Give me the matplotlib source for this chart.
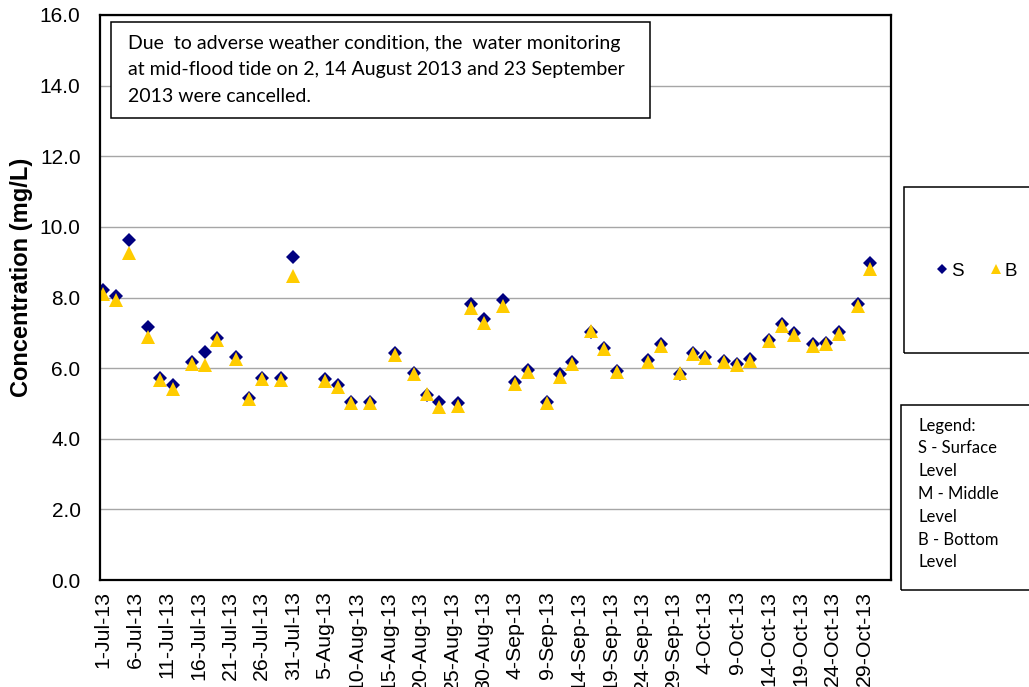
import matplotlib
matplotlib.use("Agg")
import matplotlib.pyplot as plt
import matplotlib.dates as mdates
from matplotlib.patches import Rectangle
import datetime as dt

# sampling days (2013) and dissolved oxygen readings (mg/L)
months = [7]*14 + [8]*11 + [9]*12 + [10]*13
days = [1, 3, 5, 8, 10, 12, 15, 17, 19, 22, 24, 26, 29, 31,
        5, 7, 9, 12, 16, 19, 21, 23, 26, 28, 30,
        2, 4, 6, 9, 11, 13, 16, 18, 20, 25, 27, 30,
        2, 4, 7, 9, 11, 14, 16, 18, 21, 23, 25, 28, 30]
surface = [8.21, 8.04, 9.64, 7.17, 5.71, 5.52, 6.18, 6.46, 6.84, 6.32, 5.16, 5.71, 5.71, 9.15,
           5.68, 5.52, 5.05, 5.05, 6.42, 5.87, 5.24, 5.03, 5.00, 7.83, 7.38,
           7.92, 5.61, 5.96, 5.05, 5.83, 6.18, 7.01, 6.58, 5.92, 6.23, 6.68, 5.82,
           6.43, 6.32, 6.20, 6.13, 6.25, 6.81, 7.24, 7.00, 6.68, 6.72, 7.03, 7.81, 8.98]
bottom = [8.10, 7.93, 9.27, 6.87, 5.67, 5.42, 6.13, 6.09, 6.79, 6.27, 5.12, 5.68, 5.67, 8.60,
          5.64, 5.47, 5.02, 5.02, 6.37, 5.83, 5.28, 4.89, 4.93, 7.69, 7.28,
          7.76, 5.55, 5.90, 5.02, 5.76, 6.13, 7.06, 6.53, 5.90, 6.16, 6.64, 5.85,
          6.40, 6.29, 6.17, 6.08, 6.20, 6.77, 7.19, 6.95, 6.64, 6.68, 6.98, 7.76, 8.82]
yticks = [0, 2, 4, 6, 8, 10, 12, 14, 16]

note = ("Due  to adverse weather condition, the  water monitoring\n"
        "at mid-flood tide on 2, 14 August 2013 and 23 September\n"
        "2013 were cancelled.")
legend_note = "Legend:\nS - Surface\nLevel\nM - Middle\nLevel\nB - Bottom\nLevel"

dates = [dt.date(2013, m, d) for m, d in zip(months, days)]
x = mdates.date2num(dates)

W, H = 1029, 687
def fx(px): return px / W
def fy(py): return 1 - py / H

fig = plt.figure(figsize=(W/100, H/100), dpi=100)
ax = fig.add_axes([fx(100), fy(580), 791/W, 565/H])

ls, = ax.plot(x, surface, linestyle='none', marker='D', ms=6.8, color='#000080', mew=0)
lb, = ax.plot(x, bottom, linestyle='none', marker='^', ms=9.5, color='#FFCC00', mew=0)

ax.set_ylim(0, 16)
ax.set_yticks(yticks)
ax.set_yticklabels([f"{v:.1f}" for v in yticks], fontsize=15, family='Liberation Sans')
ax.yaxis.grid(True, color='#a6a6a6', lw=1)
ax.set_axisbelow(True)

tick_dates = [dt.date(2013, 7, 1) + dt.timedelta(days=5*i) for i in range(25)]
ax.set_xticks(mdates.date2num(tick_dates))
ax.set_xticklabels([f"{d.day}-{d.strftime('%b-%y')}" for d in tick_dates],
                   rotation=90, fontsize=15.3, family='Liberation Sans')
ax.set_xlim(x[0] - 0.52, x[-1] + 3.27)
ax.tick_params(axis='both', length=0)
ax.tick_params(axis='y', pad=14)
ax.tick_params(axis='x', pad=8)
for s in ax.spines.values():
    s.set_linewidth(1.6)
    s.set_color('black')

fig.text(fx(22), fy(277), "Concentration (mg/L)", rotation=90, fontsize=17,
         fontweight='bold', family='Liberation Sans', ha='center', va='center')

# note box inside plot
fig.add_artist(Rectangle((fx(111), fy(118)), fx(650) - fx(111), fy(22) - fy(118),
                         transform=fig.transFigure, fill=True, fc='white', ec='black', lw=1.1))
fig.text(fx(128), fy(70), note, fontsize=14, family='Lato', va='center', ha='left',
         linespacing=1.65)

# series legend box on the right
fig.add_artist(Rectangle((fx(904), fy(353)), fx(1040) - fx(904), fy(187) - fy(353),
                         transform=fig.transFigure, fill=False, ec='black', lw=1.1))
fig.legend([ls, lb], ['S', 'B'], ncol=2, frameon=False, loc='center left',
           bbox_to_anchor=(fx(917), fy(271)), prop={'family': 'Liberation Sans', 'size': 13.5},
           markerscale=0.8, handlelength=0.9, handletextpad=0.0, columnspacing=1.3)

# level legend text box
fig.add_artist(Rectangle((fx(901), fy(590)), fx(1040) - fx(901), fy(405) - fy(590),
                         transform=fig.transFigure, fill=False, ec='black', lw=1.1))
fig.text(fx(918), fy(494), legend_note, fontsize=12, family='Lato', va='center', ha='left',
         linespacing=1.52)

fig.savefig("out.png", dpi=100)
